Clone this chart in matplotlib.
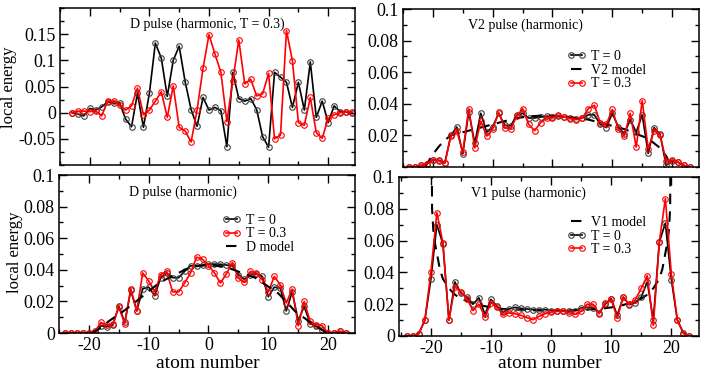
import numpy as np
import matplotlib
matplotlib.use("Agg")
import matplotlib.pyplot as plt
from matplotlib.ticker import MultipleLocator

plt.rcParams['font.family'] = ['Liberation Serif', 'DejaVu Serif']
plt.rcParams['axes.unicode_minus'] = False

# atom positions
atoms_d03 = np.arange(-23, 25)
atoms = np.arange(-24, 24)

# D pulse (harmonic, T = 0.3)
d03_t0 = [0, -0.003, -0.006, 0.008, 0.005, 0.011, 0.021, 0.018, 0.019, -0.012,
          -0.027, 0.037, -0.028, 0.037, 0.133, 0.104, 0.031, 0.100, 0.127, 0.059,
          0.006, -0.026, 0.029, 0.005, 0.010, 0.004, -0.065, 0.077, 0.027, 0.022,
          0.027, 0.006, -0.046, -0.066, 0.077, 0.068, 0.058, 0.010, 0.058, 0.005,
          0.097, -0.009, 0.022, -0.019, 0.013, 0.002, 0.001, 0]
d03_t03 = [0, 0.003, 0.003, 0.002, 0.003, -0.006, 0.022, 0.022, 0.015, 0.005,
           0.013, 0.047, -0.004, 0.005, 0.022, 0.040, -0.009, 0.051, -0.028, -0.035,
           -0.056, 0.005, 0.085, 0.149, 0.112, 0.077, -0.017, 0.061, 0.139, 0.055,
           0.064, 0.032, 0.036, 0.075, -0.050, -0.043, 0.157, 0.099, -0.019, -0.024,
           0.029, -0.038, -0.049, -0.011, -0.004, 0, 0.001, 0.001]

# V2 pulse (harmonic)
v2_t0 = [0, 0, 0.001, 0.002, 0.0044, 0.0042, 0.0027, 0.020, 0.0253, 0.0084,
         0.035, 0.015, 0.034, 0.022, 0.0255, 0.034, 0.0265, 0.026, 0.0326, 0.034,
         0.031, 0.031, 0.0316, 0.032, 0.0316, 0.032, 0.0316, 0.031, 0.0305, 0.031,
         0.033, 0.033, 0.027, 0.025, 0.034, 0.0255, 0.021, 0.030, 0.022, 0.033,
         0.0086, 0.025, 0.0206, 0.001, 0.004, 0.003, 0.001, 0]
v2_t03 = [0, 0, 0.001, 0.002, 0.0044, 0.004, 0.0023, 0.0196, 0.0227, 0.0095,
          0.037, 0.012, 0.029, 0.0196, 0.024, 0.0345, 0.025, 0.024, 0.032, 0.037,
          0.027, 0.023, 0.028, 0.031, 0.031, 0.0326, 0.0316, 0.0305, 0.030, 0.031,
          0.037, 0.039, 0.028, 0.027, 0.0364, 0.024, 0.0196, 0.034, 0.0126, 0.042,
          0.0116, 0.023, 0.020, 0.0038, 0.0042, 0.003, 0.001, 0]
v2_model_x = [-21.3, -21, -20.5, -20, -19, -18, -17, -16, -14, -12, -10, -8, -6, -4,
              -2, 0, 2, 4, 6, 8, 10, 12, 14, 16, 17, 18, 19, 19.5, 20]
v2_model_y = [0, 0.002, 0.005, 0.008, 0.013, 0.017, 0.020, 0.021, 0.023, 0.025,
              0.027, 0.029, 0.031, 0.032, 0.0325, 0.0325, 0.032, 0.031, 0.030, 0.028,
              0.026, 0.024, 0.021, 0.018, 0.015, 0.012, 0.007, 0.003, 0]

# D pulse (harmonic)
d_t0 = [0, 0, 0, 0, 0, 0.0005, 0.0046, 0.004, 0.005, 0.017,
        0.0067, 0.027, 0.014, 0.028, 0.029, 0.0236, 0.035, 0.038, 0.035, 0.035,
        0.039, 0.0425, 0.0427, 0.043, 0.0436, 0.0436, 0.0435, 0.043, 0.0425, 0.037,
        0.034, 0.037, 0.0375, 0.0358, 0.023, 0.029, 0.0284, 0.014, 0.026, 0.0078,
        0.0168, 0.006, 0.0042, 0.002, 0, 0, 0.001, 0]
d_t03 = [0, 0, 0, 0, 0, 0.001, 0.0067, 0.005, 0.0055, 0.0164,
         0.0059, 0.028, 0.014, 0.038, 0.033, 0.026, 0.037, 0.039, 0.026, 0.026,
         0.0316, 0.038, 0.048, 0.0467, 0.0427, 0.038, 0.0316, 0.0375, 0.0446, 0.0347,
         0.032, 0.039, 0.038, 0.0337, 0.026, 0.0358, 0.0305, 0.019, 0.0278, 0.0046,
         0.020, 0.0074, 0.0053, 0.0046, 0, 0, 0.001, 0]
d_model_x = [-19.5, -18.5, -16.7, -13.9, -11.1, -8.3, -5.6, -2.8, 0, 2.8, 5.6, 7.8,
             11.7, 14.5, 17.3, 19.8]
d_model_y = [0, 0.002, 0.0074, 0.0147, 0.023, 0.0316, 0.037, 0.042, 0.043, 0.042,
             0.038, 0.035, 0.025, 0.0137, 0.006, 0]

# V1 pulse (harmonic)
v1_t0 = [0, 0, 0.0015, 0.010, 0.0356, 0.070, 0.058, 0.010, 0.034, 0.027,
         0.0245, 0.020, 0.024, 0.0136, 0.023, 0.0187, 0.015, 0.017, 0.018, 0.0174,
         0.017, 0.0166, 0.0166, 0.0166, 0.016, 0.016, 0.0157, 0.0157, 0.016, 0.0176,
         0.018, 0.0176, 0.0145, 0.020, 0.0235, 0.013, 0.0245, 0.0197, 0.021, 0.0245,
         0.034, 0.010, 0.059, 0.071, 0.0354, 0.010, 0.002, 0]
v1_t03 = [0, 0, 0.0015, 0.010, 0.040, 0.0776, 0.0587, 0.0099, 0.031, 0.0277,
          0.0235, 0.016, 0.020, 0.012, 0.021, 0.018, 0.0136, 0.0145, 0.014, 0.013,
          0.0115, 0.0103, 0.0124, 0.014, 0.015, 0.0155, 0.0155, 0.0147, 0.0136, 0.0155,
          0.020, 0.020, 0.014, 0.0207, 0.023, 0.0113, 0.0245, 0.020, 0.0228, 0.030,
          0.038, 0.0067, 0.059, 0.0864, 0.039, 0.010, 0.0015, 0]
v1_model_x = [-19.9, -19.8, -19.6, -19.4, -19.0, -18.5, -18, -17, -16, -15, -14, -12,
              -10, -8, -5, -2, 0, 2, 5, 8, 10, 12, 14, 15, 16, 17, 18, 18.5, 19.0,
              19.4, 19.6, 19.8, 19.9]
v1_model_y = [0.15, 0.080, 0.067, 0.060, 0.052, 0.042, 0.036, 0.030, 0.026, 0.0235,
              0.022, 0.0195, 0.018, 0.017, 0.0165, 0.016, 0.016, 0.016, 0.0165, 0.017,
              0.018, 0.0195, 0.022, 0.0235, 0.026, 0.030, 0.036, 0.042, 0.052,
              0.060, 0.067, 0.080, 0.15]

W, H = 706, 377
fig = plt.figure(figsize=(W / 100, H / 100), dpi=100)


def px_axes(l, t, r, b):
    return fig.add_axes([l / W, 1 - b / H, (r - l) / W, (b - t) / H])


def style(ax, ymajor, yminor):
    ax.set_xlim(-25, 24.5)
    ax.xaxis.set_major_locator(MultipleLocator(10))
    ax.xaxis.set_minor_locator(MultipleLocator(5))
    ax.yaxis.set_major_locator(MultipleLocator(ymajor))
    ax.yaxis.set_minor_locator(MultipleLocator(yminor))
    ax.tick_params(which='both', direction='in', top=True, right=True,
                   labelsize=13, width=1)
    ax.tick_params(which='major', length=6, pad=3)
    ax.tick_params(which='minor', length=3)
    for s in ax.spines.values():
        s.set_linewidth(1.1)


def fmt(v):
    s = ('%.2f' % v).rstrip('0').rstrip('.')
    return '0' if s in ('0', '-0') else s


def series(ax, x, y, color, label):
    mec = '#404040' if color == 'k' else color
    ax.plot(x, y, color=color, lw=1.2, marker='o', ms=4, mfc='none',
            mec=mec, mew=0.8, label=label)


def model(ax, x, y, label):
    ax.plot(x, y, color='k', lw=1.5, ls=(0, (5, 3.5)), label=label)


# top-left
ax1 = px_axes(60, 8, 355, 165)
series(ax1, atoms_d03, d03_t0, 'k', 'T = 0')
series(ax1, atoms_d03, d03_t03, 'red', 'T = 0.3')
style(ax1, 0.05, 0.025)
ax1.set_ylim(-0.1, 0.2)
ax1.set_yticks([-0.05, 0, 0.05, 0.1, 0.15])
ax1.set_yticklabels([fmt(v) for v in [-0.05, 0, 0.05, 0.1, 0.15]])
ax1.tick_params(labelbottom=False)
ax1.text(0.498, 0.898, 'D pulse (harmonic, T = 0.3)', transform=ax1.transAxes,
         ha='center', va='center', fontsize=10)

# top-right
ax2 = px_axes(403, 9, 699, 167)
series(ax2, atoms, v2_t0, 'k', 'T = 0')
model(ax2, v2_model_x, v2_model_y, 'V2 model')
series(ax2, atoms, v2_t03, 'red', 'T = 0.3')
style(ax2, 0.02, 0.01)
ax2.set_ylim(0, 0.1)
ax2.set_yticks([0.02, 0.04, 0.06, 0.08, 0.1])
ax2.set_yticklabels([fmt(v) for v in [0.02, 0.04, 0.06, 0.08, 0.1]])
ax2.tick_params(labelbottom=False)
ax2.text(0.412, 0.899, 'V2 pulse (harmonic)', transform=ax2.transAxes,
         ha='center', va='center', fontsize=10)
ax2.legend(loc='upper left', bbox_to_anchor=(0.554, 0.74), frameon=False,
           fontsize=10, handlelength=1.4, handletextpad=0.3, labelspacing=0.05,
           borderpad=0, borderaxespad=0, numpoints=2)

# bottom-left
ax3 = px_axes(59, 175, 355, 333)
series(ax3, atoms, d_t0, 'k', 'T = 0')
series(ax3, atoms, d_t03, 'red', 'T = 0.3')
model(ax3, d_model_x, d_model_y, 'D model')
style(ax3, 0.02, 0.01)
ax3.set_ylim(0, 0.1)
ax3.set_yticks([0, 0.02, 0.04, 0.06, 0.08, 0.1])
ax3.set_yticklabels([fmt(v) for v in [0, 0.02, 0.04, 0.06, 0.08, 0.1]])
ax3.text(0.419, 0.892, 'D pulse (harmonic)', transform=ax3.transAxes,
         ha='center', va='center', fontsize=10)
ax3.legend(loc='upper left', bbox_to_anchor=(0.551, 0.755), frameon=False,
           fontsize=10, handlelength=1.4, handletextpad=0.3, labelspacing=0.05,
           borderpad=0, borderaxespad=0, numpoints=2)

# bottom-right
ax4 = px_axes(399, 177, 699, 336)
model(ax4, v1_model_x, v1_model_y, 'V1 model')
series(ax4, atoms, v1_t0, 'k', 'T = 0')
series(ax4, atoms, v1_t03, 'red', 'T = 0.3')
style(ax4, 0.02, 0.01)
ax4.set_xlim(-25.3, 24.6)
ax4.set_ylim(0, 0.1)
ax4.set_yticks([0, 0.02, 0.04, 0.06, 0.08, 0.1])
ax4.set_yticklabels([fmt(v) for v in [0, 0.02, 0.04, 0.06, 0.08, 0.1]])
ax4.text(0.43, 0.90, 'V1 pulse (harmonic)', transform=ax4.transAxes,
         ha='center', va='center', fontsize=10)
ax4.legend(loc='upper left', bbox_to_anchor=(0.56, 0.755), frameon=False,
           fontsize=10, handlelength=1.4, handletextpad=0.3, labelspacing=0.05,
           borderpad=0, borderaxespad=0, numpoints=2)

fig.text(9 / W, 1 - 87 / H, 'local energy', rotation=90, ha='center',
         va='center', fontsize=12)
fig.text(15 / W, 1 - 252 / H, 'local energy', rotation=90, ha='center',
         va='center', fontsize=12)
fig.text(208 / W, 1 - 364 / H, 'atom number', ha='center', va='center', fontsize=14)
fig.text(550 / W, 1 - 364 / H, 'atom number', ha='center', va='center', fontsize=14)

fig.savefig('out.png', dpi=100)
